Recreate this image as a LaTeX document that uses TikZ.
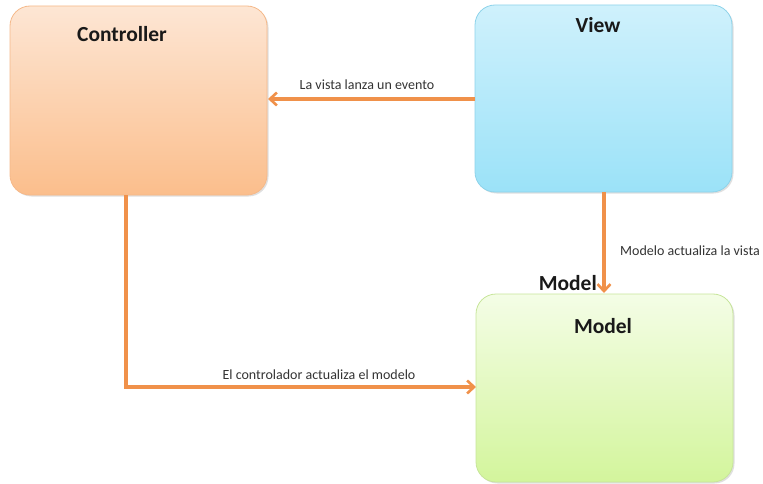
\documentclass[tikz,border=0pt]{standalone}
\usepackage{fontspec}
\setmainfont{Carlito}
\usetikzlibrary{arrows.meta,shadows}
\definecolor{arr}{HTML}{F0914A}
\definecolor{ctop}{HTML}{FDE6D4}
\definecolor{cbot}{HTML}{FBBE8C}
\definecolor{cbd}{HTML}{F5B98A}
\definecolor{vtop}{HTML}{CFF1FC}
\definecolor{vbot}{HTML}{9BE2F8}
\definecolor{vbd}{HTML}{8ED3EA}
\definecolor{mtop}{HTML}{F4FDE6}
\definecolor{mbot}{HTML}{D3F59C}
\definecolor{mbd}{HTML}{C7E59A}
\begin{document}
\begin{tikzpicture}[x=1pt,y=-1pt,
  box/.style={rounded corners=20pt,line width=0.8pt,
    drop shadow={shadow xshift=1.5pt,shadow yshift=-1.5pt,fill=black!25,opacity=0.5}},
  title/.style={font=\fontsize{21.5}{24}\selectfont\bfseries,text=black!90},
  lbl/.style={font=\fontsize{14}{16}\selectfont,text=black!80},
  link/.style={draw=arr,line width=3.2pt,-{Straight Barb[length=7pt,width=13pt,line width=2.6pt]}}]
\useasboundingbox (0,0) rectangle (763,484);
% boxes
\path[box,draw=cbd,top color=ctop,bottom color=cbot] (10,6) rectangle (267,195);
\path[box,draw=vbd,top color=vtop,bottom color=vbot] (475,5) rectangle (732,192);
\path[box,draw=mbd,top color=mtop,bottom color=mbot] (476,294) rectangle (733,482);
% named anchors
\coordinate (ctrlR) at (268,99);
\coordinate (viewL) at (475,99);
\coordinate (viewB) at (604,192);
\coordinate (modelT) at (604,293);
\coordinate (ctrlB) at (126,195);
\coordinate (bend) at (126,387);
\coordinate (modelL) at (476,387);
% titles
\node[title] (tc) at (122,34) {Controller};
\node[title] (tv) at (598,25) {View};
\node[title] (tm) at (603,326) {Model};
\node[title,anchor=east,inner sep=0pt] (tm2) at (597,283) {Model};
% connectors
\draw[link] (viewL) -- (ctrlR);
\draw[link] (viewB) -- (modelT);
\draw[link] (ctrlB) -- (bend) -- (modelL);
% labels
\node[lbl] (l1) at (367,85) {La vista lanza un evento};
\node[lbl,anchor=west,inner sep=0pt] (l2) at (620,251) {Modelo actualiza la vista};
\node[lbl] (l3) at (319,375) {El controlador actualiza el modelo};
\end{tikzpicture}
\end{document}
